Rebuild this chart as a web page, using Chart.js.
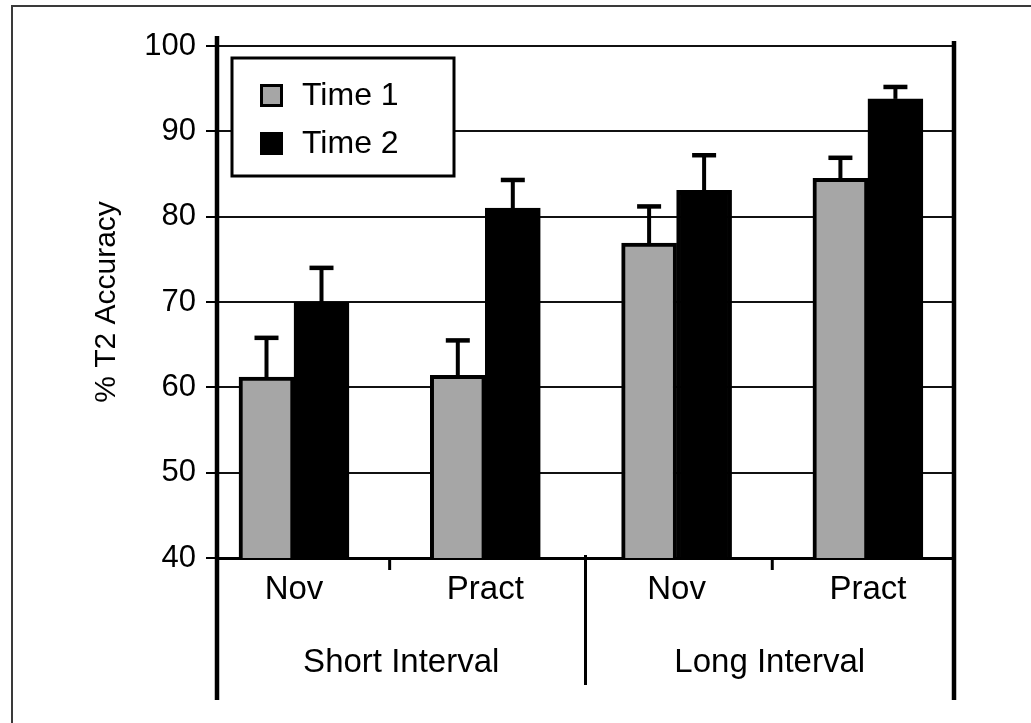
<!DOCTYPE html>
<html>
<head>
<meta charset="utf-8">
<script src="https://cdn.jsdelivr.net/npm/chart.js@4.4.1/dist/chart.umd.min.js"></script>
<style>
  html, body { margin: 0; padding: 0; background: #fff; }
  #wrap { width: 1031px; height: 723px; }
</style>
</head>
<body>
<div id="wrap"><canvas id="grafico" width="1031" height="723"></canvas></div>
<script>
// Chart data
const conditions = ['Nov', 'Pract', 'Nov', 'Pract'];
const intervals = ['Short Interval', 'Long Interval'];
const seriesNames = ['Time 1', 'Time 2'];
const time1 = [61.2, 61.4, 76.9, 84.5];
const time2 = [70.0, 81.0, 83.1, 93.8];
const time1Err = [4.6, 4.1, 4.3, 2.4];
const time2Err = [4.0, 3.3, 4.1, 1.4];
const yTicks = [40, 50, 60, 70, 80, 90, 100];

const FONT = "'Liberation Sans', Arial, sans-serif";
Chart.defaults.font.family = FONT;
Chart.defaults.color = '#000';

// White background and the thin frame on the left and top
const framePlugin = {
  id: 'frame',
  beforeDraw(chart) {
    const { ctx, width, height } = chart;
    ctx.save();
    ctx.fillStyle = '#fff';
    ctx.fillRect(0, 0, width, height);
    ctx.strokeStyle = '#3a3a3a';
    ctx.lineWidth = 2;
    ctx.beginPath();
    ctx.moveTo(12, height);
    ctx.lineTo(12, 6);
    ctx.lineTo(width, 6);
    ctx.stroke();
    ctx.restore();
  }
};

// Upper error bars with caps
const errorBarsPlugin = {
  id: 'errorBars',
  afterDatasetsDraw(chart) {
    const { ctx } = chart;
    const y = chart.scales.y;
    ctx.save();
    ctx.strokeStyle = '#000';
    chart.data.datasets.forEach((ds, d) => {
      chart.getDatasetMeta(d).data.forEach((bar, i) => {
        const top = y.getPixelForValue(ds.data[i].y + ds.errors[i]);
        ctx.lineWidth = 4;
        ctx.beginPath();
        ctx.moveTo(bar.x, bar.y);
        ctx.lineTo(bar.x, top);
        ctx.stroke();
        ctx.lineWidth = 4.5;
        ctx.beginPath();
        ctx.moveTo(bar.x - 12, top);
        ctx.lineTo(bar.x + 12, top);
        ctx.stroke();
      });
    });
    ctx.restore();
  }
};

// Axis lines extended through the label rows, and the category separators
const axesPlugin = {
  id: 'axes',
  afterDraw(chart) {
    const { ctx, chartArea } = chart;
    const { left, right, top, bottom } = chartArea;
    const x = chart.scales.x;
    const x2 = chart.scales.x2;
    const line = (x0, y0, x1, y1) => {
      ctx.beginPath();
      ctx.moveTo(x0, y0);
      ctx.lineTo(x1, y1);
      ctx.stroke();
    };
    ctx.save();
    ctx.strokeStyle = '#000';
    ctx.lineWidth = 4.5;
    line(left, top - 10, left, bottom + 142);
    line(right, top - 5, right, bottom + 142);
    ctx.lineWidth = 3;
    const mid = x2.getPixelForValue(0.5);
    line(mid, bottom - 3, mid, bottom + 127);
    [0.5, 2.5].forEach(v => {
      const px = x.getPixelForValue(v);
      line(px, bottom, px, bottom + 12);
    });
    ctx.restore();
  }
};

// Legend box inside the plot area
const legendPlugin = {
  id: 'legendBox',
  afterDatasetsDraw(chart) {
    const { ctx, chartArea } = chart;
    const bx = chartArea.left + 15;
    const by = chartArea.top + 12;
    ctx.save();
    ctx.fillStyle = '#fff';
    ctx.fillRect(bx, by, 222, 118);
    ctx.strokeStyle = '#000';
    ctx.lineWidth = 3;
    ctx.strokeRect(bx, by, 222, 118);
    ctx.font = '32px ' + FONT;
    ctx.textBaseline = 'middle';
    chart.data.datasets.forEach((ds, i) => {
      const my = by + 26 + i * 48;
      ctx.fillStyle = '#000';
      ctx.fillRect(bx + 28, my, 23, 23);
      ctx.fillStyle = ds.backgroundColor;
      ctx.fillRect(bx + 31, my + 3, 17, 17);
      ctx.fillStyle = '#000';
      ctx.fillText(ds.label, bx + 70, my + 12);
    });
    ctx.restore();
  }
};

new Chart(document.getElementById('grafico'), {
  type: 'bar',
  data: {
    datasets: [
      {
        label: seriesNames[0],
        data: time1.map((v, i) => ({ x: i, y: v })),
        errors: time1Err,
        backgroundColor: '#a6a6a6',
        borderColor: '#000',
        borderWidth: 4,
        borderSkipped: false,
        barThickness: 55
      },
      {
        label: seriesNames[1],
        data: time2.map((v, i) => ({ x: i, y: v })),
        errors: time2Err,
        backgroundColor: '#000',
        borderColor: '#000',
        borderWidth: 4,
        borderSkipped: false,
        barThickness: 55
      }
    ]
  },
  options: {
    responsive: false,
    animation: false,
    layout: { padding: { left: 0, right: 77, top: 46, bottom: 25 } },
    plugins: {
      legend: { display: false },
      tooltip: { enabled: false }
    },
    scales: {
      x: {
        type: 'linear',
        position: 'bottom',
        weight: 1,
        offset: false,
        min: -0.4025,
        max: 3.45,
        afterBuildTicks: s => { s.ticks = conditions.map((_, i) => ({ value: i })); },
        ticks: {
          callback: v => conditions[v],
          font: { size: 33 },
          color: '#000',
          padding: 12,
          autoSkip: false,
          maxRotation: 0
        },
        grid: { display: false, drawTicks: false },
        border: { display: true, color: '#000', width: 3 },
        afterFit: s => { s.height = 70; }
      },
      x2: {
        type: 'category',
        position: 'bottom',
        weight: 2,
        labels: intervals,
        offset: true,
        ticks: { font: { size: 33 }, color: '#000', padding: 15, maxRotation: 0 },
        grid: { display: false, drawTicks: false },
        border: { display: false },
        afterFit: s => { s.height = 70; }
      },
      y: {
        min: 40,
        max: 100,
        afterBuildTicks: s => { s.ticks = yTicks.map(v => ({ value: v })); },
        ticks: { font: { size: 31 }, color: '#000', padding: 10 },
        grid: { color: '#111', lineWidth: 2, tickLength: 11, tickColor: '#000', tickWidth: 2 },
        border: { display: false },
        title: {
          display: true,
          text: '% T2 Accuracy',
          font: { size: 30 },
          color: '#000',
          padding: { top: 89, bottom: 0 }
        },
        afterFit: s => { s.width = 217; }
      }
    }
  },
  plugins: [framePlugin, errorBarsPlugin, axesPlugin, legendPlugin]
});
</script>
</body>
</html>
